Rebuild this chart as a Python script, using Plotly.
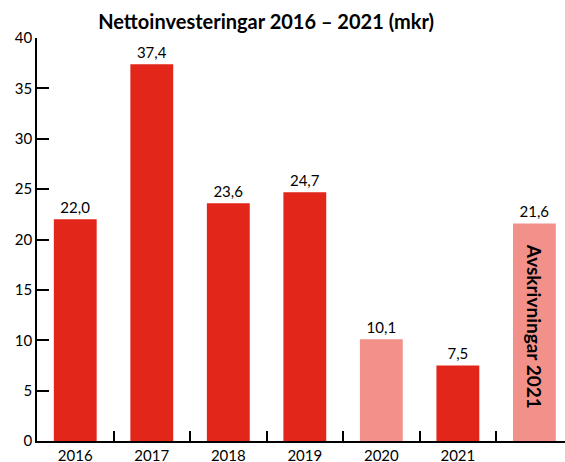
import plotly.graph_objects as go

categories = ["2016", "2017", "2018", "2019", "2020", "2021", "Avskr"]
tick_labels = ["2016", "2017", "2018", "2019", "2020", "2021", ""]
values = [22.0, 37.4, 23.6, 24.7, 10.1, 7.5, 21.6]
RED = "#E3261A"
PINK = "#F2918A"
colors = [RED, RED, RED, RED, PINK, RED, PINK]
inner_label = "Avskrivningar 2021"

FONT = "Lato, Noto Sans, sans-serif"

fig = go.Figure()
fig.add_trace(go.Bar(
    x=categories, y=values, marker=dict(color=colors, line=dict(width=0)),
    text=values, texttemplate="%{y:.1f}", textposition="outside",
    textfont=dict(family=FONT, size=15, color="#000"), cliponaxis=False,
))
fig.add_annotation(
    x=categories[-1], y=values[-1] / 2 + 0.6, text="<b>" + inner_label + "</b>",
    textangle=90, showarrow=False, font=dict(family=FONT, size=19, color="#000"),
)
fig.update_layout(
    width=565, height=462,
    margin=dict(l=37, r=0, t=38, b=21, autoexpand=False),
    paper_bgcolor="white", plot_bgcolor="white",
    separators=", ",
    bargap=0.44,
    showlegend=False,
    title=dict(text="<b>Nettoinvesteringar 2016 – 2021 (mkr)</b>", x=0.471, xanchor="center",
               y=0.952, yanchor="middle", font=dict(family=FONT, size=20, color="#000")),
    font=dict(family=FONT, size=15, color="#000"),
)
fig.update_xaxes(
    type="category", range=[-0.5, 6.4], automargin=False,
    tickmode="array", tickvals=categories, ticktext=tick_labels,
    showline=True, linecolor="#000", linewidth=1.5,
    ticks="inside", tickson="boundaries", ticklen=10, tickwidth=1.5, tickcolor="#000",
    showgrid=False, tickfont=dict(family=FONT, size=15, color="#000"),
)
fig.update_yaxes(
    range=[0, 40], tickvals=[0, 5, 10, 15, 20, 25, 30, 35, 40], automargin=False,
    showline=True, linecolor="#000", linewidth=1.5,
    ticks="inside", ticklen=12, tickwidth=1.5, tickcolor="#000",
    showgrid=False, zeroline=False, tickfont=dict(family=FONT, size=15, color="#000"),
)
fig.write_html("out.html", config={"displayModeBar": False},
               post_script="document.body.style.margin='0';document.body.style.overflow='hidden';")
